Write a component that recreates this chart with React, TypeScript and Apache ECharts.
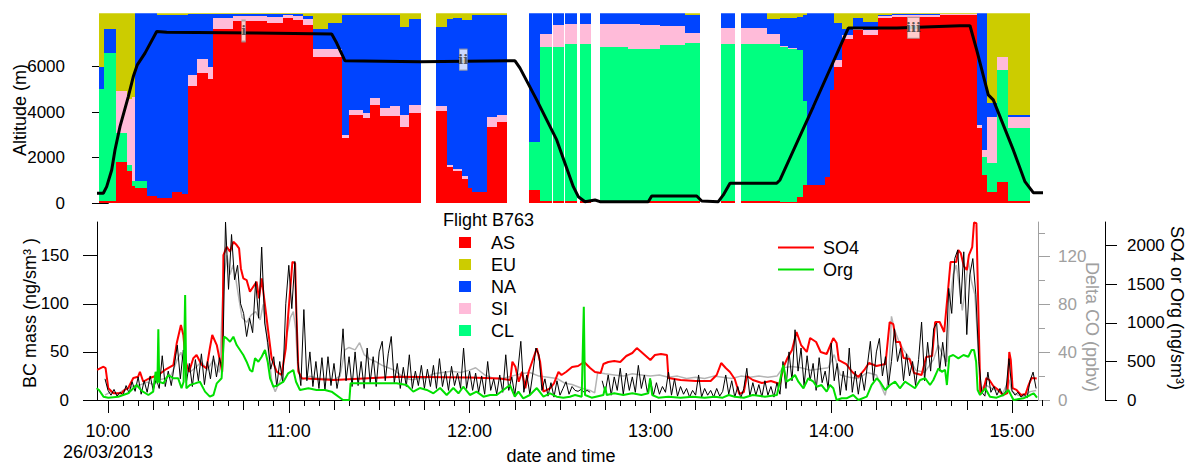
import React, { useEffect, useRef } from 'react';
import * as echarts from 'echarts';

// Time is expressed in minutes after 10:00 on 26/03/2013
const T_MIN = -3.65;
const T_MAX = 310.29;
const hourTicks = [0, 60, 120, 180, 240, 300];

// ---- Top panel: source contributions (%) per flight leg ----
const sourceNames = ['AS', 'CL', 'SI', 'NA', 'EU'];
const sourceColors = ['#ff0000', '#00ff80', '#ffbbd9', '#0044ff', '#cccc00'];
const legendOrder = ['AS', 'EU', 'NA', 'SI', 'CL'];
const legendColors = ['#ff0000', '#cccc00', '#0044ff', '#ffbbd9', '#00ff80'];

const segStart = [-2.99, -1.23, 2.56, 6.31, 7.80, 8.96, 12.94, 16.26, 21.24, 24.56,
  26.65, 29.44, 33.19, 34.94, 41.48, 52.77, 58.08, 61.39, 64.71, 68.03,
  73.01, 77.49, 80.08, 84.62, 86.81, 90.27, 93.59, 96.90, 99.89, 108.75,
  112.40, 114.59, 117.38, 119.57, 120.70, 125.78, 129.00, 139.71, 143.36, 147.58,
  151.66, 156.64, 163.27, 172.57, 176.55, 183.19, 191.49, 203.34, 209.97, 218.70,
  223.01, 225.66, 228.65, 230.64, 231.97, 237.95, 239.61, 240.94, 243.59, 247.24,
  250.56, 255.54, 260.18, 276.10, 288.39, 290.05, 291.71, 295.03, 298.68];
const segEnd = [-1.23, 2.56, 6.31, 7.80, 8.96, 12.94, 16.26, 21.24, 24.56, 26.65,
  29.44, 33.19, 34.94, 41.48, 52.77, 58.08, 61.39, 64.71, 68.03, 73.01,
  77.49, 80.08, 84.62, 86.81, 90.27, 93.59, 96.90, 99.89, 103.87, 112.40,
  114.59, 117.38, 119.57, 120.70, 125.78, 129.00, 132.31, 143.36, 147.25, 151.33,
  155.54, 160.19, 172.57, 176.55, 183.19, 191.49, 196.47, 207.92, 218.70, 223.01,
  225.66, 228.65, 230.64, 231.97, 237.95, 239.61, 240.94, 243.59, 247.24, 250.56,
  255.54, 260.18, 276.10, 288.39, 290.05, 291.71, 295.03, 298.68, 305.98];
const fracAS = [1, 1, 22, 17, 9, 8, 3.7, 3, 6, 5,
  61.7, 68.7, 65.4, 92, 96, 95, 97.4, 96.5, 94, 76.8,
  76.8, 34.4, 46.7, 45, 52, 45.8, 45.8, 40.2, 47.5, 48.5,
  19.2, 17, 13, 8, 6.2, 40.2, 43, 7.1, 1, 1,
  1, 1, 1, 1, 1, 1, 1, 1, 1, 1,
  0.5, 0.5, 3.5, 9.6, 9.6, 14, 59.6, 72, 86.3, 91.2,
  88.6, 97.4, 98.2, 99, 39.5, 15, 6, 11.4, 1];
const fracCL = [59, 78, 15, 3, 3, 4, 0, 0, 0, 0,
  0, 0, 0, 0, 0, 0, 0, 0, 0, 0,
  0, 0, 0, 0, 0, 0, 0, 0, 0, 0,
  0, 0, 0, 0, 0, 0, 0, 25.4, 81.5, 81.5,
  82.7, 82.7, 81.5, 80, 80, 82.3, 83.2, 82.7, 82.7, 82.7,
  82, 80.5, 77.2, 44.4, 0, 0, 0, 0, 0, 0,
  0, 0, 0, 0, 0, 9.6, 15, 58.6, 38.5];
const fracSI = [0, 0, 22, 35, 44, 0, 0, 0, 0, 0,
  5.8, 7, 6.1, 5.4, 2.7, 3, 1.6, 2, 3, 4.2,
  4.2, 1.6, 2.3, 2.5, 3.4, 4.2, 5.6, 6.4, 4.5, 2.5,
  0.8, 1, 1.5, 0, 0, 5.1, 3.6, 0, 6.5, 11.3,
  10.7, 10.7, 11.9, 13.4, 12.9, 10, 5.3, 8.8, 8.8, 5.3,
  0.5, 0.5, 0, 0, 0, 0, 0, 3.4, 2.3, 0.8,
  2.6, 1.1, 0.8, 0.5, 1.5, 3.4, 24.6, 7, 6.1];
const fracNA = [12, 13, 0, 0, 0, 88, 96.3, 96, 93, 94,
  32, 23.8, 28, 2.1, 0.8, 1.5, 0.8, 1, 1.5, 11,
  14, 63.3, 50.3, 51.8, 43.9, 49.3, 47.9, 46.2, 44.9, 42,
  77.2, 79.5, 82, 88.5, 92.8, 54, 52.7, 67.5, 11, 6.2,
  5.6, 5.6, 5.6, 5.6, 6.1, 6.7, 9.5, 7.5, 7.5, 8,
  14.4, 15.9, 17.3, 45, 90.4, 86, 40.4, 19.6, 3, 5.4,
  4.4, 0.5, 0.5, 0.3, 59, 72, 7, 0, 0.9];
const fracEU = [28, 8, 41, 45, 44, 0, 0, 1, 1, 1,
  0.5, 0.5, 0.5, 0.5, 0.5, 0.5, 0.2, 0.5, 1.5, 8,
  5, 0.7, 0.7, 0.7, 0.7, 0.7, 0.7, 7.2, 3.1, 7,
  2.8, 2.5, 3.5, 3.5, 1, 0.7, 0.7, 0, 0, 0,
  0, 0, 0, 0, 0, 0, 1, 0, 0, 3,
  2.6, 2.6, 2, 1, 0, 0, 0, 5, 8.4, 2.6,
  4.4, 1, 0.5, 0.2, 0, 0, 47.4, 23, 53.5];

// Altitude (m): [time, altitude]
const altitude = [[-3.65, 439], [-1.56, 439], [-0.43, 729], [1.23, 1462], [2.32, 2340], [3.98, 3364],
  [6.74, 4682], [8.40, 5560], [9.72, 6074], [12.28, 6588], [16.16, 7536], [19.48, 7507], [49.35, 7466],
  [74.24, 7422], [75.90, 7027], [78.65, 6250], [103.54, 6206], [135.07, 6250], [136.73, 5929],
  [142.27, 4537], [148.91, 2781], [154.42, 729], [156.08, 290], [158.30, 70], [161.62, 145], [163.27, 70],
  [179.30, 70], [180.43, 321], [195.37, 321], [197.03, 101], [202.54, 70], [204.20, 365], [206.42, 878],
  [221.92, 878], [223.01, 1023], [234.07, 4245], [245.68, 7685], [261.74, 7685], [282.74, 7787],
  [286.06, 7787], [288.28, 6733], [292.13, 4756], [293.79, 4537], [300.43, 2341], [304.31, 949],
  [307.07, 466], [310.29, 466]];

// Flight segment annotations
const annotTime = [45.0, 117.9, 267.3];
const annotAlt = [7557, 6298, 7697];
const annotLabel = ['i', 'ii', 'iii'];

// ---- Bottom panel ----
// BC mass (ng/sm3), one value per minute starting at bcStart
const bcStart = -1;
const bcStep = 1;
const bcValue = [
  22, 10, 5, 11, 4, 8, 5, 15, 7, 19,
  9, 24, 6, 20, 8, 25, 10, 22, 12, 46,
  14, 30, 15, 36, 57, 22, 52, 18, 38, 14,
  42, 20, 48, 16, 40, 22, 46, 24, 44, 30,
  185, 115, 172, 125, 140, 100, 90, 66, 85, 70,
  123, 85, 159, 80, 60, 32, 45, 14, 40, 18,
  100, 140, 95, 144, 40, 15, 94, 20, 50, 14,
  40, 12, 44, 10, 45, 15, 38, 12, 30, 74,
  20, 45, 14, 50, 15, 40, 12, 54, 18, 45,
  14, 50, 61, 20, 48, 66, 18, 38, 12, 34,
  14, 47, 12, 30, 15, 36, 12, 32, 14, 36,
  12, 43, 14, 30, 10, 35, 15, 28, 12, 54,
  12, 30, 10, 28, 8, 25, 6, 40, 10, 22,
  6, 26, 8, 47, 10, 24, 5, 30, 61, 8,
  26, 6, 28, 54, 47, 10, 22, 4, 18, 3,
  20, 5, 12, 19, 6, 14, 10, 9, 11, 8,
  10, 8, null, null, null, 20, 8, 26, 5, 24,
  10, 33, 6, 28, 10, 24, 8, 36, 12, 26,
  8, 22, 5, 18, 6, 14, 8, 29, 5, 22,
  4, 14, 6, 12, 3, 10, 5, 26, 3, 12,
  5, 10, 3, 12, 4, 9, 26, 6, 20, 3,
  14, 2, 12, 33, 4, 18, 5, 16, 3, 20,
  5, 14, 3, 18, 6, 40, 12, 50, 20, 73,
  30, 54, 15, 46, 20, 38, 10, 44, 18, 30,
  12, 59, 20, 38, 5, 30, 10, 54, 8, 30,
  6, 28, 10, 36, 61, 20, 50, 64, 25, 45,
  15, 40, 74, 40, 54, 20, 48, 25, 40, 15,
  42, 81, 20, 60, 30, 74, 80, 30, 60, 35,
  116, 90, 147, 156, 100, 154, 68, 130, 147, 110,
  40, 8, 4, 29, 8, 14, 5, 12, 4, 10,
  43, 10, 5, 8, 3, 6, 2, 20, 29, 12];

// SO4 (ng/sm3): [time, value]
const so4 = [[-3.6, 389], [-1.5, 431], [-0.8, 414], [0.1, 152], [1.8, 87], [4.5, 87], [5.5, 130], [6.7, 155],
  [8.4, 285], [10, 302], [10.6, 366], [11.7, 237], [13.9, 285], [16.7, 324], [18.9, 389], [21.7, 453],
  [22.8, 734], [24.2, 971], [25, 842], [25.8, 496], [26.9, 366], [28.3, 540], [29.4, 583], [31.1, 453],
  [32.7, 410], [33.8, 670], [34.6, 842], [36.1, 712], [37.2, 496], [37.9, 366], [38.3, 1878], [39.4, 1985],
  [40.5, 1920], [41.6, 2050], [42.7, 2007], [43.5, 1964], [44.1, 1705], [44.9, 1576], [46, 1554],
  [47.1, 1402], [48.2, 1467], [49.3, 1532], [50.1, 1317], [51, 1576], [52.1, 1230], [53.2, 884],
  [54.3, 540], [56, 366], [57.6, 324], [59, 670], [59.8, 1101], [61.2, 1791], [62.1, 1770], [62.5, 1144],
  [63.2, 366], [64.3, 281], [75, 259], [96, 302], [120, 291], [130, 278], [133.5, 259], [134.2, 496],
  [135.2, 431], [136.3, 237], [137.4, 366], [138.5, 152], [139.6, 366], [142.3, 670], [143.4, 496],
  [144.5, 108], [146.7, 152], [148, 216], [149.5, 363], [150.5, 324], [152, 363], [154, 427], [156, 440],
  [158, 492], [160, 414], [161.6, 363], [163.5, 350], [164.4, 466], [166, 492], [168, 505], [170, 492],
  [172, 570], [174, 609], [175.5, 673], [177, 622], [178.5, 570], [180, 518], [181.5, 583], [183.5, 596],
  [185.5, 583], [186, 285], [190, 259], [195, 246], [200, 246], [202, 324], [203.5, 479], [205, 414],
  [206.4, 363], [208, 272], [209.5, 78], [211, 104], [212, 311], [214, 259], [217, 220], [220, 246],
  [223, 207], [224, 414], [225.5, 544], [227, 648], [228.5, 881], [230, 712], [231.9, 622], [233, 803],
  [235, 751], [236.5, 622], [238.5, 596], [240.7, 803], [241.8, 738], [242.5, 518], [245, 466], [247, 363],
  [249, 298], [251, 389], [252.5, 479], [255, 440], [258, 466], [259.4, 1010], [260.6, 984], [261.5, 751],
  [262.8, 751], [264, 544], [266, 531], [267.5, 350], [270, 324], [271.5, 557], [273.5, 570],
  [274.5, 1010], [276, 1010], [277.5, 881], [278.6, 1347], [279.6, 1787], [281.5, 1787], [282.2, 1943],
  [283, 1904], [284, 1735], [285, 1684], [285.7, 1878], [286.8, 1981], [287.4, 2300], [288.2, 2290],
  [288.8, 1230], [289.5, 78], [290.5, 130], [291.5, 285], [292.5, 259], [293.8, 181], [295.5, 130],
  [297, 65], [298.5, 91], [299.1, 622], [299.6, 518], [300.2, 155], [301.5, 130], [303, 65], [304.5, 78],
  [305.5, 194], [306.5, 285], [308.2, 278]];

// Org (ng/sm3): [time, value]
const org = [[-3.8, 152], [-3, 130], [-1.5, 43], [0.1, 30], [3.4, 43], [6.7, 87], [8.4, 152], [9.5, 194],
  [11.2, 117], [13.4, 65], [15, 108], [15.8, 366], [16.4, 216], [16.7, 915], [17, 237], [18.4, 216],
  [20, 324], [21.7, 281], [23.3, 281], [24.4, 152], [25.1, 237], [25.6, 1360], [26, 152], [27.2, 194],
  [28.9, 216], [30.5, 237], [32.2, 108], [33.8, 43], [35, 65], [36.1, 216], [37.7, 281], [38.5, 820],
  [39.4, 799], [40.5, 755], [41.6, 820], [42.7, 712], [43.8, 648], [44.9, 583], [46, 496], [47.1, 389],
  [47.9, 366], [48.8, 540], [49.9, 496], [51, 561], [52.1, 648], [53, 496], [53.8, 281], [54.9, 172],
  [56.5, 194], [58.2, 237], [59.8, 346], [61.5, 389], [62.4, 237], [63.7, 130], [66.5, 152], [69.2, 130],
  [72, 130], [74.2, 108], [78, 0], [80.1, 0], [80.5, 216], [90.3, 216], [95.8, 216], [99.1, 194],
  [101.3, 108], [103.5, 155], [105.8, 130], [108, 87], [110.2, 155], [112.4, 65], [114.6, 155],
  [116.3, 87], [117.9, 172], [120.1, 65], [122.3, 108], [124.6, 43], [126.8, 65], [129, 65], [131.2, 130],
  [133.4, 194], [135, 43], [136.2, 108], [137.8, 22], [140, 65], [142.3, 155], [144.5, 43], [146.7, 87],
  [148.9, 43], [151.1, 30], [153.3, 43], [155, 65], [157.2, 43], [157.9, 1208], [158.3, 65], [160.5, 30],
  [164.4, 65], [165, 172], [165.5, 65], [168, 87], [171, 65], [174, 87], [177, 65], [179.3, 87],
  [179.9, 281], [180.6, 65], [182.6, 30], [186, 43], [190, 30], [194, 43], [198, 30], [201.4, 43],
  [204, 30], [206, 65], [208, 43], [211, 30], [214, 65], [218, 43], [222, 65], [224.1, 453], [225.2, 237],
  [226.9, 281], [228, 324], [229.1, 237], [230.8, 152], [232.4, 281], [234.1, 237], [235.2, 172],
  [236.8, 194], [238.5, 108], [239.6, 194], [240.7, 152], [241.8, 0], [243.5, 22], [245.1, 22],
  [247.3, 65], [249, 0], [251.8, 43], [253.4, 194], [255.1, 281], [256.2, 237], [257.9, 130], [259.5, 194],
  [261.2, 237], [262.8, 152], [264.5, 237], [266.2, 194], [267.8, 152], [269.5, 259], [271.2, 281],
  [272.8, 194], [273.9, 259], [275.6, 410], [276.7, 366], [277.8, 389], [278.4, 194], [279.2, 561],
  [280.5, 583], [282.2, 540], [283.9, 583], [285.5, 561], [286.6, 648], [287.4, 648], [288.1, 496],
  [288.6, 130], [289.4, 65], [291.1, 152], [292.7, 43], [294.9, 30], [297.1, 65], [298.8, 130],
  [300.5, 0], [303.8, 22], [306.1, 65], [307.2, 87], [308.3, 30]];

// Delta CO (ppbv): [time, value]
const deltaCO = [[-1, 4], [1, 7], [3, 5], [5, 8], [7, 10], [9, 12], [11, 13], [13, 15], [15, 13], [17, 17],
  [19, 18], [21, 21], [23, 34], [24.2, 40], [25.5, 27], [27, 23], [29, 27], [31, 32], [33, 25], [35, 34],
  [37, 23], [38.3, 100], [39.5, 121], [40.5, 105], [41.5, 113], [42.5, 100], [43.5, 84], [44.5, 69], [46, 65], [47.5, 71],
  [49, 74], [50.5, 67], [51.5, 80], [52.5, 59], [53.5, 34], [54.5, 13], [55.5, 7], [56.5, 13], [57.5, 18], [59, 50],
  [60.5, 69], [61.5, 74], [62.3, 59], [63, 25], [64.5, 17], [67, 20], [70, 18], [73, 18], [75, 17], [77, 20],
  [78.6, 42], [80, 44], [82, 42], [83.5, 48], [85, 38], [87, 34], [89, 32], [91, 29], [93, 27], [95, 25],
  [97, 21], [99, 18], [101, 17], [103, 18], [105, 18], [108, 22], [111, 23], [114, 24], [117, 23], [120, 25],
  [122, 27], [125, 21], [128, 18], [131, 18], [134, 20], [137, 22], [140, 23], [143, 20], [146, 19], [149, 18],
  [151.7, 14], [154, 13], [157, 10], [160, 8], [161.5, 6], [162.5, 23], [165, 22], [168, 21], [171, 20], [174, 22],
  [177, 21], [180, 20], [183, 21], [186, 19], [189, 20], [192, 18], [195, 19], [198, 18], [201, 20], [204, 19],
  [207, 18], [210, 20], [213, 19], [216, 20], [219, 19], [222, 20], [224, 27], [227, 28], [230, 27], [233, 25],
  [236, 26], [239, 27], [241, 38], [243, 21], [246, 19], [249, 18], [252, 23], [255, 21], [257.9, 4], [259.1, 18],
  [260, 70], [261, 59], [262.5, 49], [264, 42], [266, 35], [268, 25], [271, 23], [274, 34], [275.5, 46], [277, 38],
  [278.4, 32], [279.5, 84], [280.5, 105], [281.5, 113], [282.5, 96], [283.5, 75], [284.5, 92], [285.5, 117], [286.5, 100], [287.7, 88],
  [288.8, 42], [289.5, 8], [291, 13], [293, 10], [295, 8], [297, 6], [299, 17], [300, 7], [302, 4], [304, 3],
  [306, 7], [308, 8]];

const altTicks = [0, 2000, 4000, 6000];
const bcTicks = [0, 50, 100, 150];
const coTicks = [0, 40, 80, 120];
const coMinorTicks = [20, 60, 100, 140];
const so4Ticks = [0, 500, 1000, 1500, 2000];

const FONT = 'Liberation Sans, Arial, sans-serif';
const plain = (v: number) => String(Math.round(v));

function clock(m: number): string {
  const total = Math.round(600 + m);
  const h = Math.floor(total / 60);
  const mm = total - h * 60;
  return `${h}:${String(mm).padStart(2, '0')}`;
}

function buildOption() {
  const quarterTicks: number[] = [];
  for (let t = 0; t <= 300; t += 15) quarterTicks.push(t);
  const fiveTicks: number[] = [];
  for (let t = 0; t <= 310; t += 5) fiveTicks.push(t);

  const segData = segStart.map((s, i) => [s, segEnd[i], fracAS[i], fracCL[i], fracSI[i], fracNA[i], fracEU[i]]);
  const bcData = bcValue.map((v, i) => [bcStart + i * bcStep, v === null ? '-' : v]);

  const hiddenX = (g: number) => ({ type: 'value', gridIndex: g, min: T_MIN, max: T_MAX, show: false });
  const tickX = (ticks: number[], len: number) => ({
    type: 'value', gridIndex: 2, min: T_MIN, max: T_MAX, position: 'bottom',
    axisLine: { show: false, onZero: false },
    axisTick: { show: true, customValues: ticks, length: len, lineStyle: { color: '#000', width: 1 } },
    axisLabel: { show: false }, splitLine: { show: false },
  });

  const rowY = [242.5, 264.5, 286.5, 308.5, 330.5];
  const txt = (text: string, x: number, y: number, extra: any = {}) => ({
    type: 'text', x, y, rotation: extra.rotation || 0,
    style: { text, fontSize: 18, fontFamily: FONT, fill: extra.fill || '#000', align: extra.align || 'left', verticalAlign: 'middle' },
  });
  const graphic: any[] = [txt('Flight B763', 443, 220)];
  legendOrder.forEach((name, i) => {
    graphic.push({ type: 'rect', shape: { x: 459, y: rowY[i] - 5.5, width: 12, height: 11 }, style: { fill: legendColors[i] } });
    graphic.push(txt(name, 491, rowY[i]));
  });
  graphic.push(
    { type: 'line', shape: { x1: 778, y1: 247.5, x2: 814, y2: 247.5 }, style: { stroke: '#ff0000', lineWidth: 2 } },
    txt('SO4', 823, 248),
    { type: 'line', shape: { x1: 778, y1: 269.5, x2: 814, y2: 269.5 }, style: { stroke: '#00e000', lineWidth: 2 } },
    txt('Org', 823, 270),
    txt('Altitude (m)', 20, 110, { rotation: Math.PI / 2, align: 'center' }),
    txt('BC mass (ng/sm³ )', 30, 313, { rotation: Math.PI / 2, align: 'center' }),
    txt('Delta CO (ppbv)', 1092, 327, { rotation: -Math.PI / 2, align: 'center', fill: '#a0a0a0' }),
    txt('SO4 or Org (ng/sm³)', 1177, 308, { rotation: -Math.PI / 2, align: 'center' }),
    txt('date and time', 561, 456, { align: 'center' }),
  );

  return {
    animation: false,
    backgroundColor: '#ffffff',
    textStyle: { fontFamily: FONT },
    grid: [
      { left: 97, top: 13.3, width: 946, height: 190 },
      { left: 97, top: 25, width: 946, height: 178.3 },
      { left: 97, top: 222, width: 946, height: 178 },
    ],
    xAxis: [
      hiddenX(0),
      hiddenX(1),
      {
        type: 'value', gridIndex: 2, min: T_MIN, max: T_MAX, position: 'bottom',
        axisLine: { show: true, onZero: false, lineStyle: { color: '#000', width: 1 } },
        axisTick: { show: true, customValues: hourTicks, length: 13, lineStyle: { color: '#000', width: 1 } },
        axisLabel: {
          customValues: hourTicks, fontSize: 18, color: '#000', lineHeight: 21, margin: 20, fontFamily: FONT,
          formatter: (v: number) => (Math.round(v) === 0 ? '10:00\n26/03/2013' : clock(v)),
        },
        splitLine: { show: false },
      },
      tickX(quarterTicks, 10),
      tickX(fiveTicks, 6),
    ],
    yAxis: [
      { type: 'value', gridIndex: 0, min: 0, max: 100, show: false },
      {
        type: 'value', gridIndex: 1, min: 0, max: 7820, position: 'left', offset: -2,
        axisLine: { show: true, lineStyle: { color: '#000', width: 1 } },
        axisTick: { show: true, customValues: altTicks, length: 16, lineStyle: { color: '#000' } },
        axisLabel: { customValues: altTicks, fontSize: 17, color: '#000', margin: 34, formatter: plain },
        splitLine: { show: false },
      },
      {
        type: 'value', gridIndex: 2, min: 0, max: 185, position: 'left',
        axisLine: { show: true, onZero: false, lineStyle: { color: '#000', width: 1 } },
        axisTick: { show: true, customValues: bcTicks, length: 14, lineStyle: { color: '#000' } },
        axisLabel: { customValues: bcTicks, fontSize: 17, color: '#000', margin: 28, formatter: plain },
        splitLine: { show: false },
      },
      {
        type: 'value', gridIndex: 2, min: 0, max: 149, position: 'right', offset: -5,
        axisLine: { show: true, onZero: false, lineStyle: { color: '#a0a0a0', width: 1 } },
        axisTick: { show: true, customValues: coTicks, length: 12, lineStyle: { color: '#a0a0a0' } },
        axisLabel: { customValues: coTicks, fontSize: 17, color: '#a0a0a0', margin: 20, formatter: plain },
        splitLine: { show: false },
      },
      {
        type: 'value', gridIndex: 2, min: 0, max: 149, position: 'right', offset: -5,
        axisLine: { show: false, onZero: false },
        axisTick: { show: true, customValues: coMinorTicks, length: 7, lineStyle: { color: '#a0a0a0' } },
        axisLabel: { show: false },
        splitLine: { show: false },
      },
      {
        type: 'value', gridIndex: 2, min: 0, max: 2306, position: 'right', offset: 62,
        axisLine: { show: true, onZero: false, lineStyle: { color: '#000', width: 1 } },
        axisTick: { show: true, customValues: so4Ticks, length: 12, lineStyle: { color: '#000' } },
        axisLabel: { customValues: so4Ticks, fontSize: 17, color: '#000', margin: 22, formatter: plain },
        splitLine: { show: false },
      },
    ],
    graphic,
    series: [
      {
        type: 'custom', name: 'sources', xAxisIndex: 0, yAxisIndex: 0, z: 1, clip: true,
        data: segData,
        encode: { x: [0, 1], y: [2] },
        renderItem: (_params: any, api: any) => {
          const t0 = api.value(0);
          const t1 = api.value(1);
          const xL = Math.round(api.coord([t0, 0])[0]);
          const xR = Math.round(api.coord([t1, 0])[0]);
          let cum = 0;
          const children: any[] = [];
          for (let k = 0; k < sourceNames.length; k++) {
            const v = Number(api.value(2 + k));
            const yB = Math.round(api.coord([t0, cum])[1]);
            cum += v;
            const yT = Math.round(api.coord([t0, Math.min(cum, 100)])[1]);
            if (yB - yT > 0) {
              children.push({ type: 'rect', shape: { x: xL, y: yT, width: xR - xL, height: yB - yT }, style: { fill: sourceColors[k] } });
            }
          }
          return { type: 'group', children };
        },
      },
      {
        type: 'line', name: 'Altitude', xAxisIndex: 1, yAxisIndex: 1, z: 3,
        data: altitude, showSymbol: false, symbol: 'none',
        lineStyle: { color: '#000', width: 3 },
      },
      {
        type: 'scatter', name: 'legs', xAxisIndex: 1, yAxisIndex: 1, z: 4, symbol: 'rect',
        data: annotTime.map((t, i) => ({ value: [t, annotAlt[i]], name: annotLabel[i], symbolSize: [4 + 4 * i, 21] })),
        itemStyle: { color: '#ffffff', borderColor: '#999999', borderWidth: 0.8 },
        label: { show: true, position: 'inside', formatter: '{b}', fontFamily: 'DejaVu Serif', fontWeight: 'bold', fontSize: 13, color: '#333' },
      },
      {
        type: 'line', name: 'Delta CO', xAxisIndex: 2, yAxisIndex: 3, z: 2,
        data: deltaCO, showSymbol: false, symbol: 'none',
        lineStyle: { color: '#b4b4b4', width: 1.5 },
      },
      {
        type: 'line', name: 'SO4', xAxisIndex: 2, yAxisIndex: 5, z: 3,
        data: so4, showSymbol: false, symbol: 'none',
        lineStyle: { color: '#ff0000', width: 2 },
      },
      {
        type: 'line', name: 'BC', xAxisIndex: 2, yAxisIndex: 2, z: 4,
        data: bcData, showSymbol: false, symbol: 'none', connectNulls: false,
        lineStyle: { color: '#000000', width: 1 },
      },
      {
        type: 'line', name: 'Org', xAxisIndex: 2, yAxisIndex: 5, z: 5,
        data: org, showSymbol: false, symbol: 'none',
        lineStyle: { color: '#00e000', width: 2 },
      },
    ],
  };
}

export default function App() {
  const ref = useRef<HTMLDivElement>(null);
  useEffect(() => {
    document.body.style.margin = '0';
    if (!ref.current) return;
    const chart = echarts.init(ref.current, null, { renderer: 'svg' });
    chart.setOption(buildOption() as any);
    return () => chart.dispose();
  }, []);
  return <div ref={ref} style={{ width: 1195, height: 467 }} />;
}
